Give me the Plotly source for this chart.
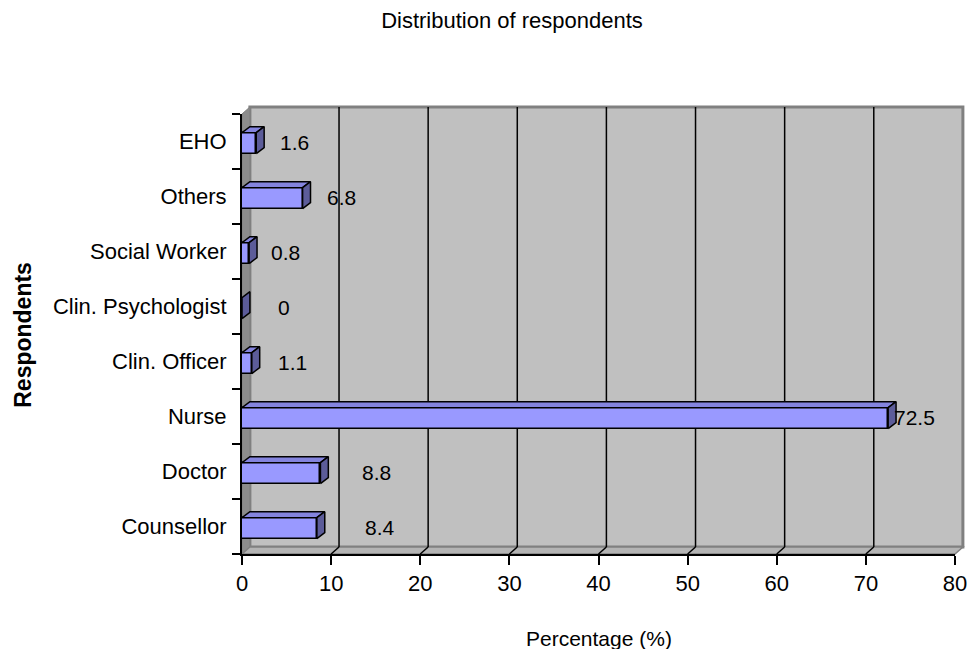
import plotly.graph_objects as go

# Respondent groups, listed bottom-to-top as they appear on the axis
categories = ["Counsellor", "Doctor", "Nurse", "Clin. Officer",
              "Clin. Psychologist", "Social Worker", "Others", "EHO"]
percentages = [8.4, 8.8, 72.5, 1.1, 0, 0.8, 6.8, 1.6]
x_ticks = [0, 10, 20, 30, 40, 50, 60, 70, 80]

# Horizontal offset (px) of each value label from the end of its bar
label_gap_px = [46, 40, 4, 24, 34, 20, 22, 22]

W, H = 979, 649
M_L, M_R, M_T, M_B = 242, 15, 114, 95
PW, PH = W - M_L - M_R, H - M_T - M_B
X_MAX = 80
Y_MIN, Y_MAX = -0.5, len(categories) - 0.5

# 3-D depth of the walls and of the bars, in pixels
DEPTH_X, DEPTH_Y = 8, 7
BAR_DX, BAR_DY = 8, 6
px_x = X_MAX / PW                      # data units per pixel on x
px_y = (Y_MAX - Y_MIN) / PH            # data units per pixel on y
BAR_W, BAR_OFF = 0.38, -0.22

FONT = "Liberation Sans, Arial, sans-serif"
FRONT, TOP, SIDE = "#9999FF", "#8484DE", "#5C5C99"

fig = go.Figure()

ypos = list(range(len(categories)))

# Front faces of the bars
fig.add_trace(go.Bar(
    x=percentages, y=ypos, orientation="h",
    width=BAR_W, offset=BAR_OFF,
    marker=dict(color=FRONT, line=dict(color="black", width=1.5)),
    hoverinfo="skip", showlegend=False,
))

# Top and side faces giving each bar its depth
ddx, ddy = BAR_DX * px_x, BAR_DY * px_y
for v, y in zip(percentages, ypos):
    y_lo = y + BAR_OFF
    y_hi = y + BAR_OFF + BAR_W
    if v > 0:
        fig.add_trace(go.Scatter(
            x=[0, v, v + ddx, ddx, 0],
            y=[y_hi, y_hi, y_hi + ddy, y_hi + ddy, y_hi],
            mode="lines", fill="toself", fillcolor=TOP,
            line=dict(color="black", width=1.5),
            hoverinfo="skip", showlegend=False,
        ))
    fig.add_trace(go.Scatter(
        x=[v, v + ddx, v + ddx, v, v],
        y=[y_lo, y_lo + ddy, y_hi + ddy, y_hi, y_lo],
        mode="lines", fill="toself", fillcolor=SIDE,
        line=dict(color="black", width=1.5),
        hoverinfo="skip", showlegend=False,
    ))

# Value labels
for v, y, gap in zip(percentages, ypos, label_gap_px):
    fig.add_annotation(
        x=v, y=y, xref="x", yref="y", text=f"{v:g}",
        showarrow=False, xanchor="left", yanchor="middle", xshift=gap,
        yshift=-1,
        font=dict(family=FONT, size=21, color="black"),
    )

# Walls and floor of the 3-D frame (paper coordinates)
dxp, dyp = DEPTH_X / PW, DEPTH_Y / PH
shapes = [
    # back wall
    dict(type="rect", xref="paper", yref="paper", layer="below",
         x0=dxp, x1=1 + dxp, y0=dyp, y1=1 + dyp,
         fillcolor="#C0C0C0", line=dict(color="#808080", width=3)),
    # left side wall
    dict(type="path", xref="paper", yref="paper", layer="below",
         path=f"M 0 0 L 0 1 L {dxp} {1 + dyp} L {dxp} {dyp} Z",
         fillcolor="#8C8C8C", line=dict(color="#808080", width=1)),
    # floor
    dict(type="path", xref="paper", yref="paper", layer="below",
         path=f"M 0 0 L 1 0 L {1 + dxp} {dyp} L {dxp} {dyp} Z",
         fillcolor="#B4B4B4", line=dict(color="#808080", width=1.5)),
]
# gridlines on the back wall, joined to the front ticks across the floor
gdx = DEPTH_X * px_x
for t in x_ticks[1:-1]:
    shapes.append(dict(type="line", xref="x", yref="paper", layer="below",
                       x0=t + gdx, x1=t + gdx, y0=dyp, y1=1 + dyp,
                       line=dict(color="black", width=1.5)))
    shapes.append(dict(type="line", xref="x", yref="paper", layer="below",
                       x0=t, x1=t + gdx, y0=0, y1=dyp,
                       line=dict(color="black", width=1.5)))
fig.update_layout(shapes=shapes)

fig.update_xaxes(
    range=[0, X_MAX], tickvals=x_ticks, ticks="outside", ticklen=9,
    tickwidth=2, tickcolor="black", showgrid=False, zeroline=False,
    showline=True, linecolor="black", linewidth=2,
    tickfont=dict(family=FONT, size=22, color="black"), fixedrange=True,
)
fig.update_yaxes(
    range=[Y_MIN, Y_MAX], tickvals=ypos, ticktext=categories, ticks="",
    ticklabelstandoff=9,
    showgrid=False, zeroline=False, showline=True, linecolor="black",
    linewidth=2, tickfont=dict(family=FONT, size=22, color="black"),
    minor=dict(tickvals=[i - 0.5 for i in range(len(categories) + 1)],
               ticks="outside", ticklen=8, tickwidth=2, tickcolor="black",
               showgrid=False),
    fixedrange=True,
)

fig.add_annotation(x=0.5, y=-(638 - (H - M_B)) / PH, xref="paper", yref="paper",
                   text="Percentage (%)", showarrow=False, yanchor="middle",
                   font=dict(family=FONT, size=21, color="black"))
fig.add_annotation(x=(20 - M_L) / PW, y=(H - M_B - 335) / PH,
                   xref="paper", yref="paper", xanchor="center",
                   yanchor="middle",
                   text="<b>Respondents</b>", showarrow=False, textangle=-90,
                   font=dict(family=FONT, size=23, color="black"))

fig.update_layout(
    width=W, height=H,
    margin=dict(l=M_L, r=M_R, t=M_T, b=M_B),
    paper_bgcolor="white", plot_bgcolor="rgba(0,0,0,0)",
    title=dict(text="Distribution of respondents", x=512 / W, xref="container",
               xanchor="center", y=1 - 20 / H, yref="container",
               yanchor="middle",
               font=dict(family=FONT, size=22, color="black")),
    bargap=0,
)

fig.write_html("out.html")
